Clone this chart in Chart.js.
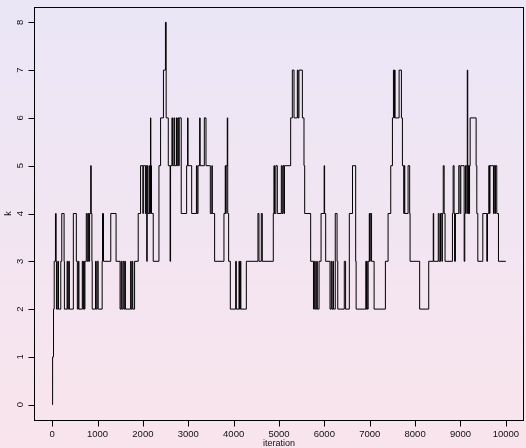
<!DOCTYPE html>
<html>
<head>
<meta charset="utf-8">
<script src="https://cdn.jsdelivr.net/npm/chart.js@4"></script>
<style>
  html, body { margin: 0; padding: 0; }
  canvas { display: block; }
</style>
</head>
<body>
<canvas id="trace" width="526" height="448"></canvas>
<script>
// Iterations at which the sampled number of components k changes, and the new value of k.
const iterations = [
  0, 10, 30, 45, 73, 88, 95, 124, 139, 190, 212, 263, 270, 329, 343, 365, 380, 467, 533, 555,
  577, 591, 664, 679, 694, 708, 723, 752, 774, 796, 810, 825, 850, 861, 876, 883, 956, 971, 993, 1015,
  1102, 1110, 1132, 1292, 1409, 1497, 1520, 1535, 1560, 1580, 1600, 1615, 1730, 1742, 1765, 1778, 1817, 1897, 1949, 2000,
  2010, 2055, 2070, 2085, 2095, 2110, 2140, 2150, 2168, 2175, 2190, 2228, 2354, 2390, 2453, 2497, 2513, 2560, 2600, 2610,
  2640, 2655, 2684, 2700, 2740, 2752, 2770, 2790, 2800, 2845, 2964, 2985, 2995, 3075, 3180, 3195, 3215, 3251, 3262, 3354,
  3391, 3486, 3520, 3530, 3581, 3787, 3815, 3825, 3835, 3860, 3870, 3890, 3927, 4045, 4060, 4118, 4130, 4150, 4160, 4280,
  4536, 4558, 4610, 4632, 4874, 4889, 4900, 4930, 4963, 5051, 5070, 5090, 5110, 5120, 5257, 5294, 5331, 5404, 5420, 5440,
  5515, 5551, 5566, 5698, 5760, 5780, 5800, 5830, 5845, 5883, 5927, 5995, 6005, 6029, 6124, 6150, 6165, 6190, 6200, 6240,
  6280, 6295, 6439, 6468, 6550, 6620, 6690, 6700, 6914, 6925, 6935, 6943, 6965, 6990, 7000, 7010, 7040, 7096, 7345, 7404,
  7463, 7500, 7522, 7540, 7548, 7558, 7647, 7698, 7720, 7750, 7760, 7772, 7845, 7880, 7889, 8100, 8300, 8400, 8410, 8510,
  8530, 8560, 8590, 8600, 8620, 8640, 8660, 8823, 8838, 8859, 8870, 8889, 8962, 8990, 9007, 9081, 9095, 9110, 9140, 9150,
  9160, 9170, 9180, 9190, 9200, 9213, 9345, 9360, 9382, 9492, 9580, 9595, 9624, 9640, 9650, 9727, 9740, 9760, 9770, 9800,
  9837, 10000
];
const kValues = [
  0, 1, 2, 3, 4, 3, 2, 3, 2, 3, 4, 3, 2, 3, 2, 3, 2, 4, 3, 2,
  3, 2, 3, 2, 3, 2, 3, 4, 3, 4, 3, 4, 5, 4, 3, 2, 3, 2, 3, 2,
  3, 4, 3, 4, 3, 2, 3, 2, 3, 2, 3, 2, 3, 2, 3, 2, 3, 4, 5, 4,
  5, 4, 5, 3, 5, 4, 5, 4, 6, 5, 4, 3, 5, 6, 7, 8, 6, 5, 3, 5,
  6, 5, 6, 5, 6, 5, 6, 5, 6, 4, 5, 6, 5, 4, 5, 4, 5, 6, 5, 6,
  5, 4, 5, 4, 3, 4, 5, 4, 5, 6, 4, 3, 2, 3, 2, 3, 2, 3, 2, 3,
  4, 3, 4, 3, 4, 5, 4, 5, 4, 5, 4, 5, 4, 5, 6, 7, 6, 7, 6, 7,
  6, 5, 4, 3, 2, 3, 2, 3, 2, 3, 4, 5, 4, 3, 2, 3, 2, 3, 2, 4,
  3, 2, 3, 2, 4, 5, 3, 2, 3, 2, 3, 2, 3, 4, 3, 4, 3, 2, 3, 4,
  5, 6, 7, 6, 7, 6, 7, 6, 5, 4, 5, 4, 5, 4, 3, 2, 3, 4, 3, 4,
  3, 4, 3, 4, 5, 4, 3, 4, 5, 4, 3, 4, 5, 4, 5, 3, 4, 5, 4, 7,
  5, 4, 5, 4, 5, 6, 5, 4, 3, 4, 3, 4, 5, 4, 5, 4, 5, 4, 5, 4,
  3, 3
];
const xTicks = [0, 1000, 2000, 3000, 4000, 5000, 6000, 7000, 8000, 9000, 10000];
const yTicks = [0, 1, 2, 3, 4, 5, 6, 7, 8];
const xTitle = 'iteration';
const yTitle = 'k';

const tracePoints = iterations.map((it, i) => ({ x: it, y: kValues[i] }));

const FONT = '"Liberation Sans", Arial, Helvetica, sans-serif';

// Soft vertical wash behind the whole figure.
const backdrop = {
  id: 'backdrop',
  beforeDraw(chart) {
    const { ctx, width, height } = chart;
    const g = ctx.createLinearGradient(0, 0, 0, height);
    g.addColorStop(0, '#eae6f7');
    g.addColorStop(1, '#f9e4ec');
    ctx.save();
    ctx.fillStyle = g;
    ctx.fillRect(0, 0, width, height);
    ctx.restore();
  }
};

// Box, tick marks and labels in the classic base-graphics style.
const frame = {
  id: 'frame',
  afterDraw(chart) {
    const { ctx, chartArea: a } = chart;
    const xs = chart.scales.x, ys = chart.scales.y;
    const L = Math.round(a.left) + 0.5, R = Math.round(a.right) - 0.5;
    const T = Math.round(a.top) + 0.5, B = Math.round(a.bottom) + 0.5;
    ctx.save();
    ctx.strokeStyle = '#000';
    ctx.lineWidth = 1;
    ctx.strokeRect(L, T, R - L, B - T);

    ctx.fillStyle = '#111';
    ctx.font = '9.5px ' + FONT;
    ctx.textAlign = 'center';
    ctx.textBaseline = 'middle';
    ctx.beginPath();
    xTicks.forEach(v => {
      const px = Math.round(xs.getPixelForValue(v)) + 0.5;
      ctx.moveTo(px, B);
      ctx.lineTo(px, B + 6);
    });
    yTicks.forEach(v => {
      const py = Math.round(ys.getPixelForValue(v)) + 0.5;
      ctx.moveTo(L - 6, py);
      ctx.lineTo(L, py);
    });
    ctx.stroke();

    xTicks.forEach(v => {
      ctx.fillText(String(v), xs.getPixelForValue(v), B + 14);
    });
    yTicks.forEach(v => {
      ctx.save();
      ctx.translate(L - 14, ys.getPixelForValue(v));
      ctx.rotate(-Math.PI / 2);
      ctx.fillText(String(v), 0, 0);
      ctx.restore();
    });

    ctx.font = '9px ' + FONT;
    ctx.fillText(xTitle, (a.left + a.right) / 2, B + 23);
    ctx.save();
    ctx.translate(9, (a.top + a.bottom) / 2);
    ctx.rotate(-Math.PI / 2);
    ctx.fillText(yTitle, 0, 0);
    ctx.restore();
    ctx.restore();
  }
};

new Chart(document.getElementById('trace'), {
  type: 'line',
  data: {
    datasets: [{
      data: tracePoints,
      stepped: true,
      borderColor: '#000',
      borderWidth: 1,
      pointRadius: 0,
      fill: false
    }]
  },
  options: {
    responsive: false,
    animation: false,
    devicePixelRatio: 1,
    layout: { padding: { left: 34, top: 7, right: 2, bottom: 28 } },
    plugins: { legend: { display: false }, tooltip: { enabled: false } },
    scales: {
      x: { type: 'linear', min: -400, max: 10400, display: false },
      y: { type: 'linear', min: -0.32, max: 8.32, display: false }
    }
  },
  plugins: [backdrop, frame]
});
</script>
</body>
</html>
